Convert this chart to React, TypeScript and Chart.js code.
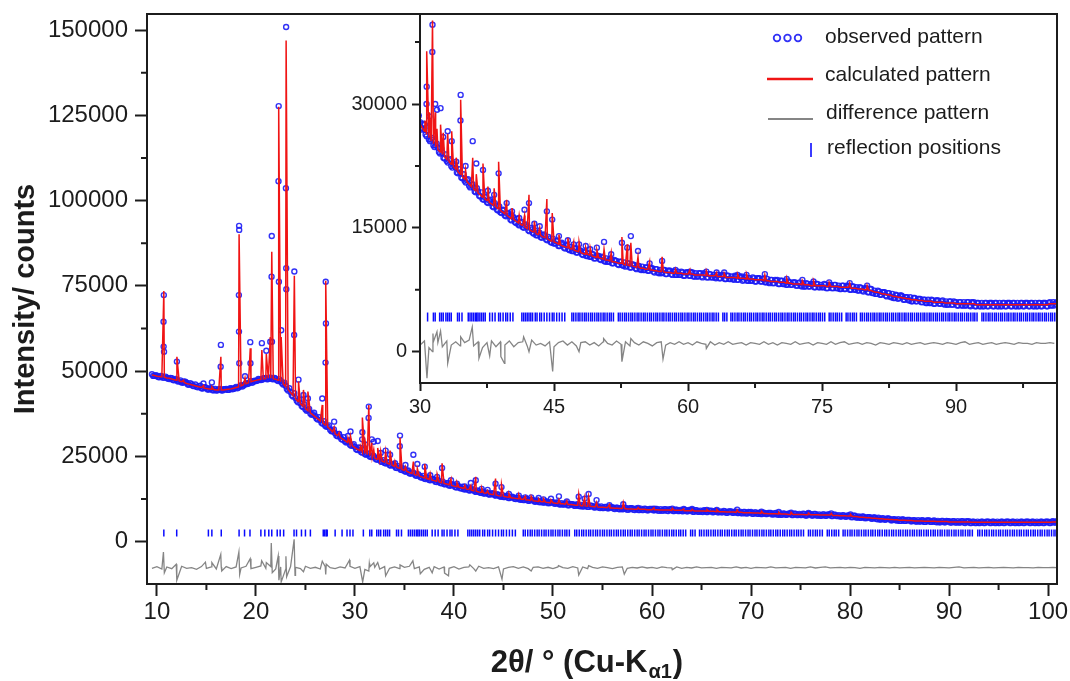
import React, { useEffect, useRef } from "react";
import { Chart, registerables } from "chart.js";

Chart.register(...registerables);

const FONT = "'Liberation Sans', Arial, Helvetica, sans-serif";
const INK = "#1c1c1c";
const OBS_COLOR = "rgba(28,28,245,0.9)";
const CALC_COLOR = "#f01414";
const DIFF_COLOR = "#858585";
const REFL_COLOR = "#0a0aff";

// ---- scan grid (2θ in degrees) ----
const scanStart = 9.5;
const scanStep = 0.25;

// observed intensity on the scan grid (thousands of counts)
const observedK = [
  49.1, 48.6,
  48.7, 48.2, 48.5, 48.1,
  48.1, 47.7, 47.9, 47.3,
  47.5, 47.0, 46.7, 46.9,
  46.6, 46.0, 46.2, 45.6,
  45.4, 45.6, 45.0, 45.2,
  45.1, 44.6, 44.9, 44.4,
  44.3, 44.7, 44.4, 44.7,
  44.8, 44.5, 45.0, 44.8,
  45.4, 45.2, 45.9, 45.8,
  46.5, 46.4, 47.1, 46.9,
  47.1, 47.7, 47.4, 47.9,
  48.0, 47.7, 48.1, 47.6,
  47.8, 47.1, 47.1, 46.1,
  45.7, 44.3, 43.9, 42.6,
  42.1, 40.9, 40.6, 39.5,
  38.8, 38.6, 37.6, 37.4,
  36.8, 35.8, 35.6, 34.6,
  34.0, 33.8, 32.8, 32.4,
  31.8, 30.9, 30.8, 29.9,
  29.4, 29.3, 28.4, 28.3,
  27.8, 26.9, 26.9, 26.1,
  25.7, 25.7, 25.0, 25.0,
  24.7, 24.0, 24.1, 23.4,
  23.1, 23.2, 22.5, 22.6,
  22.3, 21.6, 21.7, 21.0,
  20.7, 20.8, 20.1, 20.2,
  19.9, 19.3, 19.4, 18.8,
  18.5, 18.7, 18.1, 18.3,
  18.1, 17.5, 17.7, 17.1,
  16.9, 17.1, 16.5, 16.7,
  16.5, 15.9, 16.2, 15.6,
  15.4, 15.6, 15.1, 15.3,
  15.1, 14.6, 14.8, 14.3,
  14.1, 14.4, 13.9, 14.1,
  14.0, 13.5, 13.7, 13.2,
  13.1, 13.4, 12.8, 13.1,
  13.0, 12.5, 12.8, 12.3,
  12.2, 12.5, 12.0, 12.3,
  12.2, 11.7, 12.0, 11.6,
  11.5, 11.8, 11.3, 11.6,
  11.6, 11.1, 11.4, 10.9,
  10.9, 11.2, 10.7, 11.1,
  11.0, 10.5, 10.9, 10.4,
  10.3, 10.7, 10.2, 10.6,
  10.5, 10.0, 10.4, 9.9,
  9.9, 10.2, 9.8, 10.1,
  10.1, 9.6, 10.0, 9.5,
  9.5, 9.9, 9.4, 9.8,
  9.8, 9.3, 9.7, 9.3,
  9.3, 9.7, 9.2, 9.6,
  9.6, 9.2, 9.6, 9.1,
  9.1, 9.5, 9.1, 9.5,
  9.4, 9.0, 9.4, 9.0,
  9.0, 9.3, 8.9, 9.3,
  9.3, 8.8, 9.2, 8.8,
  8.8, 9.2, 8.7, 9.1,
  9.1, 8.7, 9.0, 8.6,
  8.6, 9.0, 8.5, 8.9,
  8.9, 8.5, 8.8, 8.4,
  8.4, 8.7, 8.3, 8.7,
  8.7, 8.2, 8.6, 8.2,
  8.1, 8.5, 8.1, 8.4,
  8.4, 8.0, 8.4, 7.9,
  7.9, 8.3, 7.9, 8.2,
  8.2, 7.8, 8.2, 7.8,
  7.8, 8.2, 7.7, 8.1,
  8.1, 7.7, 8.1, 7.7,
  7.6, 8.0, 7.6, 8.0,
  8.0, 7.5, 7.9, 7.5,
  7.4, 7.8, 7.4, 7.7,
  7.7, 7.2, 7.6, 7.1,
  7.0, 7.4, 6.9, 7.2,
  7.2, 6.7, 7.1, 6.6,
  6.5, 6.9, 6.4, 6.8,
  6.7, 6.3, 6.6, 6.2,
  6.1, 6.5, 6.1, 6.4,
  6.4, 6.0, 6.3, 5.9,
  5.9, 6.3, 5.8, 6.2,
  6.2, 5.8, 6.2, 5.7,
  5.7, 6.1, 5.7, 6.1,
  6.0, 5.6, 6.0, 5.6,
  5.6, 6.0, 5.6, 6.0,
  6.0, 5.5, 5.9, 5.5,
  5.5, 5.9, 5.5, 5.9,
  5.9, 5.5, 5.9, 5.5,
  5.5, 5.9, 5.5, 5.9,
  5.9, 5.5, 5.9, 5.5,
  5.5, 5.9, 5.5, 5.9,
  5.9, 5.5, 5.9, 5.5,
  5.5, 5.9, 5.5, 5.9,
  5.9, 5.5, 6.0, 5.6,
  5.6, 6.0,
];

// observed intensity half-way between the grid steps (9.625°, 9.875°, ... 101.125°)
const observedMidK = [
  48.6, 48.8,
  48.3, 48.6, 48.1, 48.4,
  47.8, 48.0, 47.4, 47.7,
  47.0, 47.3, 46.6, 46.9,
  46.1, 46.5, 45.7, 46.1,
  45.3, 45.7, 44.9, 45.3,
  44.6, 45.0, 44.4, 44.8,
  44.4, 44.8, 44.3, 44.7,
  44.5, 44.9, 44.7, 45.1,
  45.0, 45.6, 45.5, 46.1,
  46.2, 46.7, 46.6, 47.2,
  47.2, 47.6, 47.5, 47.9,
  47.6, 48.1, 47.7, 48.0,
  47.3, 47.6, 46.5, 46.6,
  44.8, 45.0, 42.9, 43.5,
  41.3, 41.7, 39.8, 40.3,
  38.4, 38.9, 37.2, 37.8,
  36.1, 36.5, 34.9, 35.3,
  33.7, 34.1, 32.4, 32.9,
  31.1, 31.6, 30.1, 30.6,
  29.1, 29.6, 28.1, 28.6,
  27.1, 27.6, 26.3, 26.8,
  25.5, 25.9, 24.8, 25.2,
  24.2, 24.6, 23.5, 23.9,
  22.9, 23.3, 22.3, 22.7,
  21.7, 22.1, 21.1, 21.5,
  20.5, 20.9, 19.9, 20.3,
  19.4, 19.8, 18.9, 19.3,
  18.4, 18.8, 18.0, 18.4,
  17.6, 18.0, 17.2, 17.6,
  16.8, 17.2, 16.4, 16.8,
  16.0, 16.4, 15.7, 16.1,
  15.3, 15.7, 15.0, 15.4,
  14.7, 15.0, 14.4, 14.7,
  14.1, 14.4, 13.8, 14.2,
  13.6, 13.9, 13.3, 13.7,
  13.1, 13.4, 12.8, 13.2,
  12.6, 12.9, 12.4, 12.7,
  12.2, 12.5, 12.0, 12.3,
  11.8, 12.1, 11.6, 11.9,
  11.5, 11.8, 11.3, 11.6,
  11.2, 11.5, 11.0, 11.3,
  10.9, 11.2, 10.7, 11.0,
  10.6, 10.9, 10.5, 10.8,
  10.4, 10.7, 10.2, 10.5,
  10.1, 10.4, 10.0, 10.3,
  9.9, 10.2, 9.8, 10.1,
  9.7, 10.0, 9.6, 9.9,
  9.6, 9.9, 9.4, 9.8,
  9.4, 9.7, 9.3, 9.7,
  9.3, 9.6, 9.2, 9.6,
  9.2, 9.6, 9.1, 9.5,
  9.1, 9.5, 9.0, 9.4,
  9.0, 9.4, 9.0, 9.3,
  8.9, 9.3, 8.9, 9.2,
  8.8, 9.2, 8.8, 9.1,
  8.7, 9.1, 8.7, 9.0,
  8.6, 9.0, 8.6, 8.9,
  8.6, 8.9, 8.5, 8.9,
  8.5, 8.8, 8.4, 8.8,
  8.3, 8.7, 8.3, 8.6,
  8.2, 8.6, 8.2, 8.5,
  8.1, 8.4, 8.1, 8.4,
  8.0, 8.3, 8.0, 8.3,
  7.9, 8.2, 7.9, 8.2,
  7.8, 8.2, 7.8, 8.1,
  7.8, 8.1, 7.7, 8.1,
  7.7, 8.1, 7.7, 8.0,
  7.6, 8.0, 7.6, 7.9,
  7.5, 7.9, 7.5, 7.8,
  7.4, 7.7, 7.3, 7.6,
  7.2, 7.6, 7.1, 7.4,
  7.0, 7.3, 6.9, 7.2,
  6.8, 7.1, 6.7, 7.0,
  6.5, 6.8, 6.5, 6.8,
  6.3, 6.6, 6.3, 6.6,
  6.1, 6.5, 6.1, 6.4,
  6.0, 6.3, 5.9, 6.3,
  5.9, 6.2, 5.8, 6.2,
  5.8, 6.1, 5.8, 6.1,
  5.7, 6.1, 5.7, 6.0,
  5.6, 6.0, 5.6, 6.0,
  5.6, 6.0, 5.5, 5.9,
  5.5, 5.9, 5.5, 5.9,
  5.5, 5.9, 5.5, 5.9,
  5.5, 5.9, 5.5, 5.9,
  5.5, 5.9, 5.5, 5.9,
  5.5, 5.9, 5.5, 5.9,
  5.5, 5.9, 5.5, 5.9,
  5.5, 5.9, 5.5, 5.9,
  5.5, 5.9, 5.5, 5.9,
  5.5, 5.9, 5.6, 6.0,
  5.8,
];

// calculated intensity on the scan grid (thousands of counts)
const calculatedK = [
  48.9, 48.7,
  48.5, 48.4, 48.3, 48.2,
  48.0, 47.9, 47.7, 47.5,
  47.3, 47.1, 46.9, 46.7,
  46.4, 46.2, 46.0, 45.8,
  45.6, 45.4, 45.2, 45.0,
  44.9, 44.8, 44.7, 44.6,
  44.5, 44.5, 44.5, 44.5,
  44.6, 44.7, 44.8, 45.0,
  45.2, 45.4, 45.7, 46.0,
  46.3, 46.6, 46.9, 47.1,
  47.3, 47.5, 47.6, 47.7,
  47.8, 47.9, 47.9, 47.8,
  47.6, 47.3, 46.9, 46.3,
  45.5, 44.6, 43.7, 42.8,
  41.9, 41.1, 40.4, 39.7,
  39.0, 38.4, 37.8, 37.2,
  36.6, 36.0, 35.4, 34.8,
  34.2, 33.6, 33.0, 32.2,
  31.6, 31.1, 30.6, 30.1,
  29.6, 29.1, 28.6, 28.1,
  27.6, 27.1, 26.7, 26.3,
  25.9, 25.5, 25.2, 24.8,
  24.5, 24.2, 23.9, 23.6,
  23.3, 23.0, 22.7, 22.4,
  22.1, 21.8, 21.5, 21.2,
  20.9, 20.6, 20.3, 20.0,
  19.7, 19.5, 19.2, 19.0,
  18.7, 18.5, 18.3, 18.1,
  17.9, 17.7, 17.5, 17.3,
  17.1, 16.9, 16.7, 16.5,
  16.3, 16.1, 16.0, 15.8,
  15.6, 15.4, 15.3, 15.1,
  14.9, 14.8, 14.6, 14.5,
  14.3, 14.2, 14.1, 13.9,
  13.8, 13.7, 13.5, 13.4,
  13.3, 13.2, 13.0, 12.9,
  12.8, 12.7, 12.6, 12.5,
  12.4, 12.3, 12.2, 12.1,
  12.0, 11.9, 11.8, 11.8,
  11.7, 11.6, 11.5, 11.4,
  11.4, 11.3, 11.2, 11.1,
  11.1, 11.0, 10.9, 10.9,
  10.8, 10.7, 10.7, 10.6,
  10.5, 10.5, 10.4, 10.4,
  10.3, 10.2, 10.2, 10.1,
  10.1, 10.0, 10.0, 9.9,
  9.9, 9.8, 9.8, 9.7,
  9.7, 9.7, 9.6, 9.6,
  9.6, 9.5, 9.5, 9.5,
  9.5, 9.5, 9.4, 9.4,
  9.4, 9.4, 9.4, 9.3,
  9.3, 9.3, 9.3, 9.3,
  9.2, 9.2, 9.2, 9.2,
  9.2, 9.1, 9.1, 9.1,
  9.1, 9.0, 9.0, 9.0,
  9.0, 9.0, 8.9, 8.9,
  8.9, 8.9, 8.8, 8.8,
  8.8, 8.8, 8.7, 8.7,
  8.7, 8.7, 8.6, 8.6,
  8.6, 8.5, 8.5, 8.5,
  8.5, 8.4, 8.4, 8.4,
  8.3, 8.3, 8.3, 8.2,
  8.2, 8.2, 8.2, 8.1,
  8.1, 8.1, 8.1, 8.0,
  8.0, 8.0, 8.0, 8.0,
  8.0, 8.0, 7.9, 7.9,
  7.9, 7.9, 7.9, 7.9,
  7.8, 7.8, 7.8, 7.8,
  7.8, 7.7, 7.7, 7.7,
  7.6, 7.6, 7.6, 7.5,
  7.5, 7.4, 7.4, 7.3,
  7.2, 7.2, 7.1, 7.0,
  7.0, 6.9, 6.9, 6.8,
  6.7, 6.7, 6.6, 6.6,
  6.5, 6.5, 6.4, 6.4,
  6.3, 6.3, 6.3, 6.2,
  6.2, 6.2, 6.1, 6.1,
  6.1, 6.1, 6.0, 6.0,
  6.0, 6.0, 6.0, 5.9,
  5.9, 5.9, 5.9, 5.9,
  5.8, 5.8, 5.8, 5.8,
  5.8, 5.8, 5.8, 5.8,
  5.8, 5.7, 5.7, 5.7,
  5.7, 5.7, 5.7, 5.7,
  5.7, 5.7, 5.7, 5.7,
  5.7, 5.7, 5.7, 5.7,
  5.7, 5.7, 5.7, 5.7,
  5.7, 5.7, 5.7, 5.7,
  5.7, 5.7, 5.7, 5.7,
  5.7, 5.7, 5.7, 5.7,
  5.7, 5.7, 5.8, 5.8,
  5.8, 5.8,
];

// Bragg peak maxima: position, calculated top, observed top (thousands of counts)
const peakPos = [
  10.70, 12.02, 12.70, 14.70, 15.55, 16.46, 18.30, 18.90, 19.43, 20.60,
  21.05, 21.45, 21.60, 22.30, 22.55, 23.05, 23.88, 24.30, 24.80, 25.25,
  26.70, 27.05, 27.90, 28.40, 29.30, 29.55, 30.55, 30.75, 31.05, 31.40,
  31.70, 31.90, 32.30, 32.60, 33.10, 33.55, 34.05, 34.55, 35.10, 35.90,
  36.30, 37.05, 37.60, 38.30, 38.80, 39.70, 40.30, 41.10, 41.70, 42.20,
  42.80, 43.40, 44.20, 44.80, 45.55, 46.55, 47.20, 47.80, 48.55, 49.05,
  49.80, 50.60, 51.40, 52.60, 53.20, 53.60, 54.40, 55.70, 57.10, 58.60,
  60.20, 62.05, 63.20, 64.05, 65.55, 66.55, 68.60, 71.05, 72.80, 74.05,
  75.80, 78.10, 80.05,
];
const peakCalcK = [
  73.5, 54.2, 47.3, 45.8, 45.4, 54.2, 90.1, 48.0, 56.7, 56.2,
  55.0, 60.0, 85.0, 127.5, 60.0, 146.9, 78.0, 47.0, 44.5, 44.0,
  40.1, 76.5, 33.5, 32.0, 30.5, 30.9, 28.0, 36.4, 29.0, 40.1,
  29.0, 27.0, 27.5, 26.5, 26.4, 26.7, 23.5, 30.5, 22.0, 23.5,
  21.5, 22.8, 20.0, 19.8, 23.0, 18.4, 17.4, 16.5, 16.5, 19.0,
  15.8, 15.0, 18.5, 16.8, 14.2, 13.8, 13.3, 13.3, 12.6, 12.6,
  12.3, 12.4, 12.0, 13.9, 13.0, 13.2, 11.5, 10.9, 11.5, 10.0,
  9.9, 9.8, 9.6, 9.5, 9.4, 9.4, 9.3, 8.9, 8.6, 8.6,
  8.4, 8.3, 8.0,
];
const peakObsK = [
  72.3, 52.8, 46.9, 46.4, 46.7, 57.7, 92.6, 48.5, 58.5, 58.2,
  56.0, 58.6, 89.6, 127.7, 62.0, 150.9, 79.2, 47.5, 43.0, 42.0,
  42.0, 76.2, 35.2, 31.5, 31.0, 32.3, 27.5, 32.1, 28.5, 39.6,
  30.0, 29.3, 29.5, 26.0, 26.7, 25.5, 23.0, 31.1, 22.5, 25.5,
  22.8, 22.0, 19.5, 19.0, 21.6, 18.0, 17.0, 16.2, 17.2, 18.0,
  15.5, 15.2, 17.0, 16.0, 14.0, 13.5, 13.0, 13.0, 12.8, 12.4,
  12.6, 13.3, 11.8, 13.2, 12.6, 14.0, 12.2, 10.7, 11.0, 9.9,
  9.7, 9.7, 9.6, 9.6, 9.3, 9.3, 9.4, 8.8, 8.7, 8.5,
  8.4, 8.3, 8.0,
];

// observed points on the flanks of the strong peaks
const flankPos = [10.67, 10.68, 10.72, 16.44, 18.28, 18.29, 18.31, 18.32, 19.45, 21.58, 21.62,
  22.28, 22.32, 23.03, 23.06, 23.07, 23.86, 27.03, 27.07, 30.73, 31.38, 34.53];
const flankObsK = [64.5, 57.2, 55.7, 51.3, 72.3, 61.6, 91.4, 52.3, 52.3, 77.7, 58.6,
  105.7, 76.2, 103.6, 80.2, 74.0, 60.6, 52.5, 64.0, 30.0, 36.3, 28.0];

// difference (obs - calc), thousands of counts, on a 0.5° grid from 9.5°
const diffStart = 9.5;
const diffStep = 0.5;
const differenceK = [
  -0.2, 0.3, -0.4, 0.2, -0.3, 0.1, 0.4, -0.2, 0.0, -0.5,
  0.3, -0.2, 0.2, -0.4, 0.1, 0.3, -0.3, 0.2, -0.1, 0.4,
  -0.3, 0.1, 0.5, -0.2, 0.3, -0.4, 0.2, -0.5, 0.3, 0.1,
  -0.3, 0.4, -0.2, 0.1, -0.4, 0.3, 0.0, -0.3, 0.2, -0.1,
  0.4, -0.2, 0.3, -0.5, 0.2, 0.1, -0.4, 0.3, -0.2, 0.2,
  -0.3, 0.1, 0.4, -0.3, 0.2, -0.5, 0.1, 0.3, -0.4, 0.2,
  -0.2, 0.3, -0.4, 0.1, 0.2, -0.3, 0.4, -0.2, 0.0, -0.3,
  0.2, -0.4, 0.1, 0.3, -0.2, 0.2, -0.3, 0.1, 0.2, -0.2,
  0.1, -0.3, 0.2, 0.0, -0.2, 0.3, -0.1, 0.2, -0.3, 0.1,
  -0.2, 0.2, 0.0, -0.3, 0.1, 0.2, -0.2, 0.1, -0.1, 0.2,
  -0.1, 0.1, -0.2, 0.2, 0.0, -0.1, 0.2, -0.2, 0.1, -0.1,
  0.2, -0.1, 0.0, 0.1, -0.2, 0.1, 0.0, -0.1, 0.2, -0.1,
  0.1, -0.2, 0.1, 0.0, -0.1, 0.2, -0.1, 0.0, 0.1, -0.2,
  0.1, 0.0, -0.1, 0.2, -0.1, 0.1, 0.2, -0.1, 0.0, 0.1,
  -0.1, 0.1, 0.0, -0.2, 0.1, 0.0, -0.1, 0.1, 0.0, -0.1,
  0.1, -0.1, 0.0, 0.1, -0.1, 0.0, 0.1, 0.0, -0.1, 0.1,
  0.0, -0.1, 0.1, 0.2, -0.1, 0.0, 0.1, -0.1, 0.0, 0.1,
  -0.1, 0.0, 0.1, 0.0, -0.1, 0.1, 0.0, 0.0, -0.1, 0.1,
  0.0, 0.0, 0.1, 0.0,
];
const diffSpikePos = [
  10.66, 10.75, 11.95, 12.02, 14.90, 15.55, 16.45, 16.55, 18.28, 18.36,
  19.42, 20.58, 21.05, 21.55, 21.65, 22.25, 22.32, 22.55, 23.03, 23.10,
  23.86, 23.95, 24.80, 26.70, 27.05, 27.10, 29.45, 30.78, 31.40, 31.45,
  31.90, 32.30, 33.10, 34.55, 35.85, 36.60, 37.80, 39.05, 39.45, 41.60,
  42.20, 44.85, 47.80, 50.55, 52.60, 53.60, 57.20, 62.05,
];
const diffSpikeK = [
  4.6, -1.5, 1.0, -3.7, 1.6, 1.5, 3.9, -1.0, 4.6, -2.0,
  2.6, 2.0, 1.5, 7.2, -1.5, 3.4, -3.7, -4.2, 3.3, -2.7,
  8.3, -2.3, -1.2, 1.9, -2.0, 1.0, 2.2, -4.2, -1.0, 1.2,
  1.4, 1.5, -2.4, 0.8, 2.0, -1.8, -1.5, -1.6, -2.4, 0.8,
  -1.0, -3.4, -1.0, 0.6, -2.2, 0.6, -1.9, -0.6,
];

// reflection (Bragg) positions, 2θ
const reflectionPos = [
  10.7, 12.0, 15.2, 15.55, 16.5, 18.3, 18.85, 19.4, 20.5, 20.9, 21.3, 21.6, 22.15, 22.45, 22.8,
  23.85, 24.1, 24.6, 25.0, 25.5, 26.8, 26.95, 27.1, 27.2, 28.0, 28.7, 29.2, 29.5, 29.8,
  30.85, 31.5, 31.7, 32.2, 32.4, 32.6, 32.9, 33.1, 33.3, 33.5, 34.2, 34.4, 34.7, 35.4, 35.6,
  35.8, 36.0, 36.2, 36.35, 36.5, 36.7, 36.9, 37.1, 37.3, 37.8, 38.1, 38.4, 38.8, 39.0, 39.3,
  39.6, 39.8, 40.1, 40.4, 41.4, 41.6, 41.8, 42.0, 42.2, 42.4, 42.6, 42.9, 43.1, 43.4, 43.6,
  43.9, 44.2, 44.5, 44.8, 45.0, 45.3, 45.6, 45.9, 46.2,
  47.0, 47.2, 47.45, 47.7, 47.9, 48.15, 48.4, 48.6, 48.85, 49.1, 49.3, 49.55, 49.8, 50.0,
  50.25, 50.5, 50.7, 50.95, 51.2, 51.4, 51.65, 52.2, 52.4, 52.65, 52.9, 53.1, 53.35, 53.6,
  53.8, 54.05, 54.3, 54.5, 54.75, 55.0, 55.2, 55.45, 55.7, 55.9, 56.15, 56.4, 56.6, 56.85,
  57.1, 57.3, 57.55, 57.8, 58.0, 58.25, 58.5, 58.7, 58.95, 59.2, 59.4, 59.65, 59.9, 60.1,
  60.35, 60.6, 60.8, 61.05, 61.3, 61.5, 61.75, 62.0, 62.2, 62.45, 62.7, 62.9, 63.15, 63.4,
  63.9, 64.1, 64.35, 64.8, 65.0, 65.25, 65.5, 65.7, 65.95, 66.2, 66.4, 66.65, 66.9, 67.1,
  67.35, 67.6, 67.8, 68.05, 68.3, 68.5, 68.75, 69.0, 69.2, 69.45, 69.7, 69.9, 70.15, 70.4,
  70.6, 70.85, 71.1, 71.3, 71.55, 71.8, 72.0, 72.25, 72.5, 72.7, 72.95, 73.2, 73.4, 73.65,
  73.9, 74.1, 74.35, 74.6, 74.8, 75.05, 75.3, 75.8, 76.0, 76.25, 76.5, 76.7, 76.95, 77.2,
  77.7, 77.9, 78.15, 78.4, 78.6, 78.85, 79.3, 79.5, 79.75, 80.0, 80.2, 80.45, 80.7, 80.9,
  81.15, 81.4, 81.6, 81.85, 82.1, 82.3, 82.55, 82.8, 83.0, 83.25, 83.5, 83.7, 83.95, 84.2,
  84.4, 84.65, 84.9, 85.1, 85.35, 85.6, 85.8, 86.05, 86.3, 86.5, 86.75, 87.0, 87.2, 87.45,
  87.7, 87.9, 88.15, 88.4, 88.6, 88.85, 89.1, 89.3, 89.55, 89.8, 90.0, 90.25, 90.5, 90.7,
  90.95, 91.2, 91.4, 91.65, 91.9, 92.1, 92.35, 92.9, 93.1, 93.35, 93.6, 93.8, 94.05, 94.3,
  94.5, 94.75, 95.0, 95.2, 95.45, 95.7, 95.9, 96.15, 96.4, 96.6, 96.85, 97.1, 97.3, 97.55,
  97.8, 98.0, 98.25, 98.5, 98.7, 98.95, 99.2, 99.4, 99.65, 99.9, 100.1, 100.35, 100.6, 100.8,
  101.05,
];

// ---- axis ticks ----
const mainXTicks = [10, 20, 30, 40, 50, 60, 70, 80, 90, 100];
const mainXMinor = [15, 25, 35, 45, 55, 65, 75, 85, 95];
const mainYTicks = [0, 25000, 50000, 75000, 100000, 125000, 150000];
const mainYMinor = [12500, 37500, 62500, 87500, 112500, 137500];
const insetXTicks = [30, 45, 60, 75, 90];
const insetXMinor = [37.5, 52.5, 67.5, 82.5, 97.5];
const insetYTicks = [0, 15000, 30000];
const insetYMinor = [7500, 22500, 37500];

const legendLabels = ["observed pattern", "calculated pattern", "difference pattern", "reflection positions"];

// ---- build series ----
const K = 1000;
const byX = (a: { x: number }, b: { x: number }) => a.x - b.x;
const obsSeries = observedK
  .map((v, i) => ({ x: scanStart + i * scanStep, y: v * K }))
  .concat(observedMidK.map((v, i) => ({ x: scanStart + (i + 0.5) * scanStep, y: v * K })))
  .concat(peakPos.map((x, i) => ({ x, y: peakObsK[i] * K })))
  .concat(flankPos.map((x, i) => ({ x, y: flankObsK[i] * K })))
  .sort(byX);
const calcSeries = calculatedK
  .map((v, i) => ({ x: scanStart + i * scanStep, y: v * K }))
  .concat(peakPos.map((x, i) => ({ x, y: peakCalcK[i] * K })))
  .sort(byX);
const diffSeries = differenceK
  .map((v, i) => ({ x: diffStart + i * diffStep, y: v * K }))
  .concat(diffSpikePos.map((x, i) => ({ x, y: diffSpikeK[i] * K })))
  .sort(byX);

function datasets(diffOffset: number, reflLevel: number, reflHalf: number, obsRadius: number) {
  return [
    {
      type: "line",
      label: "calculated pattern",
      data: calcSeries,
      borderColor: CALC_COLOR,
      borderWidth: 1.5,
      pointRadius: 0,
      tension: 0,
      order: 0,
    },
    {
      type: "line",
      label: "observed pattern",
      data: obsSeries,
      showLine: false,
      pointStyle: "circle",
      pointRadius: obsRadius,
      pointBorderWidth: 1.4,
      pointBorderColor: OBS_COLOR,
      pointBackgroundColor: "rgba(0,0,0,0)",
      order: 1,
    },
    {
      type: "line",
      label: "difference pattern",
      data: diffSeries.map((p) => ({ x: p.x, y: p.y + diffOffset })),
      borderColor: DIFF_COLOR,
      borderWidth: 1.3,
      pointRadius: 0,
      tension: 0,
      order: 2,
    },
    {
      type: "line",
      label: "reflection positions",
      data: reflectionPos.map((x) => ({ x, y: reflLevel })),
      showLine: false,
      pointStyle: "line",
      rotation: 90,
      pointRadius: reflHalf,
      pointBorderWidth: 1.5,
      pointBorderColor: REFL_COLOR,
      order: 3,
    },
  ];
}

function linearAxis(opts: any) {
  const { min, max, ticks, fontSize, tickLen, pad, size, horizontal, title } = opts;
  const axis: any = {
    type: "linear",
    min,
    max,
    afterBuildTicks: (s: any) => {
      s.ticks = ticks.map((v: number) => ({ value: v }));
    },
    afterFit: (s: any) => {
      if (horizontal) s.height = size;
      else s.width = size;
      s.paddingTop = 0;
      s.paddingBottom = 0;
      s.paddingLeft = 0;
      s.paddingRight = 0;
    },
    ticks: {
      font: { family: FONT, size: fontSize },
      color: INK,
      padding: pad,
      maxRotation: 0,
      autoSkip: false,
      callback: (v: any) => String(v),
    },
    grid: {
      display: true,
      drawOnChartArea: false,
      drawTicks: true,
      tickLength: tickLen,
      tickWidth: 2,
      tickColor: INK,
    },
    border: { display: false },
  };
  if (title) axis.title = title;
  return axis;
}

function framePlugin(id: string, xMinor: number[], yMinor: number[], minorLen: number, fillWhite: boolean, extra?: (c: any) => void) {
  return {
    id,
    beforeDraw(chart: any) {
      if (!fillWhite) return;
      const a = chart.chartArea;
      const ctx = chart.ctx;
      ctx.save();
      ctx.fillStyle = "#ffffff";
      ctx.fillRect(a.left, a.top, a.right - a.left, a.bottom - a.top);
      ctx.restore();
    },
    afterDraw(chart: any) {
      const { ctx, chartArea: a, scales } = chart;
      ctx.save();
      ctx.strokeStyle = INK;
      ctx.lineWidth = 2;
      ctx.beginPath();
      for (const v of xMinor) {
        const px = scales.x.getPixelForValue(v);
        ctx.moveTo(px, a.bottom);
        ctx.lineTo(px, a.bottom + minorLen);
      }
      for (const v of yMinor) {
        const py = scales.y.getPixelForValue(v);
        ctx.moveTo(a.left, py);
        ctx.lineTo(a.left - minorLen, py);
      }
      ctx.stroke();
      ctx.strokeRect(a.left, a.top, a.right - a.left, a.bottom - a.top);
      ctx.restore();
      if (extra) extra(chart);
    },
  };
}

function drawXTitle(chart: any) {
  const ctx = chart.ctx;
  const a = chart.chartArea;
  ctx.save();
  ctx.fillStyle = INK;
  ctx.textBaseline = "alphabetic";
  ctx.textAlign = "left";
  const big = `bold 31px ${FONT}`;
  const small = `bold 20px ${FONT}`;
  const partA = "2θ/ ° (Cu-K";
  const sub = "α1";
  const partC = ")";
  ctx.font = big;
  const wA = ctx.measureText(partA).width;
  const wC = ctx.measureText(partC).width;
  ctx.font = small;
  const wB = ctx.measureText(sub).width;
  const total = wA + wB + wC;
  let x = (a.left + a.right) / 2 - 16 - total / 2;
  const base = a.bottom + 88;
  ctx.font = big;
  ctx.fillText(partA, x, base);
  x += wA;
  ctx.font = small;
  ctx.fillText(sub, x + 1, base + 6);
  x += wB + 2;
  ctx.font = big;
  ctx.fillText(partC, x, base);
  ctx.restore();
}

function drawLegend(chart: any) {
  const ctx = chart.ctx;
  const a = chart.chartArea;
  const symX = a.right - 290; // left end of line symbols
  const textX = a.right - 232;
  const rows = [37, 75, 113, 148];
  ctx.save();
  // observed: three small circles
  ctx.strokeStyle = OBS_COLOR;
  ctx.lineWidth = 1.8;
  for (const dx of [10, 20.5, 31]) {
    ctx.beginPath();
    ctx.arc(symX + dx, rows[0] + 1, 3.3, 0, Math.PI * 2);
    ctx.stroke();
  }
  // calculated: red line
  ctx.strokeStyle = CALC_COLOR;
  ctx.lineWidth = 2.6;
  ctx.beginPath();
  ctx.moveTo(symX, rows[1] + 4);
  ctx.lineTo(symX + 46, rows[1] + 4);
  ctx.stroke();
  // difference: gray line
  ctx.strokeStyle = DIFF_COLOR;
  ctx.lineWidth = 2;
  ctx.beginPath();
  ctx.moveTo(symX + 1, rows[2] + 6);
  ctx.lineTo(symX + 46, rows[2] + 6);
  ctx.stroke();
  // reflection: blue tick
  ctx.strokeStyle = REFL_COLOR;
  ctx.lineWidth = 1.6;
  ctx.beginPath();
  ctx.moveTo(symX + 44, rows[3] - 5);
  ctx.lineTo(symX + 44, rows[3] + 9);
  ctx.stroke();

  ctx.fillStyle = INK;
  ctx.font = `21px ${FONT}`;
  ctx.textAlign = "left";
  ctx.textBaseline = "middle";
  ctx.fillText(legendLabels[0], textX, rows[0]);
  ctx.fillText(legendLabels[1], textX, rows[1]);
  ctx.fillText(legendLabels[2], textX + 1, rows[2]);
  ctx.fillText(legendLabels[3], textX + 2, rows[3]);
  ctx.restore();
}

function commonOptions(padding: any, scales: any) {
  return {
    responsive: false,
    animation: false,
    devicePixelRatio: 1,
    events: [],
    parsing: false,
    layout: { padding },
    plugins: { legend: { display: false }, tooltip: { enabled: false }, title: { display: false } },
    scales,
  };
}

export default function App() {
  const mainRef = useRef<HTMLCanvasElement>(null);
  const insetRef = useRef<HTMLCanvasElement>(null);

  useEffect(() => {
    Chart.defaults.font.family = FONT;
    const main = new Chart(mainRef.current as HTMLCanvasElement, {
      type: "line",
      data: { datasets: datasets(-7600, 2550, 3.5, 2.5) as any },
      options: commonOptions(
        { left: 0, right: 13, top: 14, bottom: 0 },
        {
          x: linearAxis({ min: 9.0, max: 100.9, ticks: mainXTicks, fontSize: 24, tickLen: 12, pad: 2, size: 97, horizontal: true }),
          y: linearAxis({
            min: -12400, max: 154700, ticks: mainYTicks, fontSize: 24, tickLen: 12, pad: 7, size: 147, horizontal: false,
            title: {
              display: true,
              text: "Intensity/ counts",
              color: INK,
              font: { family: FONT, size: 29, weight: "bold" },
              padding: { top: 9, bottom: 0 },
            },
          }),
        }
      ) as any,
      plugins: [framePlugin("mainFrame", mainXMinor, mainYMinor, 6, false, drawXTitle)],
    } as any);

    const inset = new Chart(insetRef.current as HTMLCanvasElement, {
      type: "line",
      data: { datasets: datasets(1000, 4200, 4.5, 2.5) as any },
      options: commonOptions(
        { left: 340, right: 13, top: 14, bottom: 253 },
        {
          x: linearAxis({ min: 30, max: 101.3, ticks: insetXTicks, fontSize: 20, tickLen: 8, pad: 4, size: 45, horizontal: true }),
          y: linearAxis({ min: -3790, max: 40900, ticks: insetYTicks, fontSize: 20, tickLen: 8, pad: 5, size: 80, horizontal: false }),
        }
      ) as any,
      plugins: [framePlugin("insetFrame", insetXMinor, insetYMinor, 5, true, drawLegend)],
    } as any);

    return () => {
      main.destroy();
      inset.destroy();
    };
  }, []);

  return (
    <div style={{ position: "absolute", left: 0, top: 0, width: 1070, height: 681, background: "#ffffff" }}>
      <canvas ref={mainRef} width={1070} height={681} style={{ position: "absolute", left: 0, top: 0 }} />
      <canvas ref={insetRef} width={1070} height={681} style={{ position: "absolute", left: 0, top: 0 }} />
    </div>
  );
}
